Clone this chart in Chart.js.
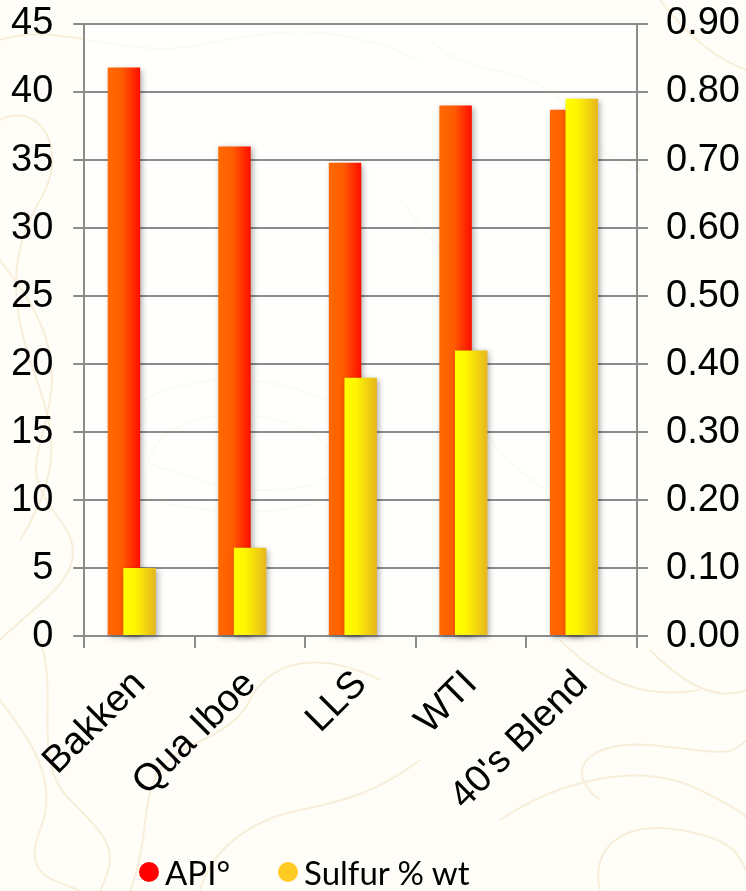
<!DOCTYPE html>
<html>
<head>
<meta charset="utf-8">
<title>API gravity and sulfur content of light crudes</title>
<script src="https://cdn.jsdelivr.net/npm/chart.js@4.4.1/dist/chart.umd.min.js"></script>
<style>
  html, body { margin: 0; padding: 0; background: #fffdf8; }
  #wrap { position: relative; width: 746px; height: 891px; overflow: hidden; }
  #topo, #chart { position: absolute; left: 0; top: 0; }
  #legend {
    position: absolute; left: 139px; top: 852px;
    display: flex; align-items: center;
    font-family: Lato, "Open Sans", sans-serif; font-size: 33px; color: #000;
  }
  #legend .item { display: flex; align-items: center; margin-right: 48px; }
  #legend .dot { width: 20px; height: 20px; border-radius: 50%; margin-right: 6px; }
</style>
</head>
<body>
<div id="wrap">
  <!-- faint topographic backdrop -->
  <svg id="topo" width="746" height="891" viewBox="0 0 746 891" fill="none" stroke="#f0e0bc" stroke-width="2" opacity="0.5">
    <path d="M0 40 C60 20 120 60 200 45 S330 20 420 60"/>
    <path d="M0 120 C40 100 70 150 40 200 S10 300 30 360 S70 460 20 540"/>
    <path d="M0 260 C30 300 60 340 50 400 S20 470 60 520 S40 600 0 640"/>
    <path d="M40 640 C60 700 30 760 70 800 S120 850 100 891"/>
    <path d="M0 700 C30 740 60 780 40 830 S60 880 80 891"/>
    <path d="M130 891 C150 840 140 800 160 770 S230 740 250 700 S320 650 380 680"/>
    <path d="M200 891 C210 850 250 820 300 810 S380 790 420 760"/>
    <path d="M600 891 C590 850 620 820 680 830 S740 860 746 870"/>
    <path d="M500 820 C560 780 640 760 700 790 S746 820 746 820"/>
    <path d="M600 800 C560 770 590 740 650 745 S730 760 746 740"/>
    <path d="M650 650 C690 690 720 700 746 690"/>
    <path d="M660 0 C690 40 720 60 746 70"/>
    <path d="M560 640 C600 680 640 700 700 690"/>
    <path d="M160 440 C200 400 300 410 330 450 S260 500 200 480 S140 470 160 440"/>
    <path d="M120 420 C170 360 320 370 360 430 S300 520 210 510 S90 480 120 420"/>
    <path d="M400 200 C450 260 480 300 470 360 S500 460 560 500"/>
    <path d="M430 40 C470 80 520 60 560 100 S600 160 640 170"/>
  </svg>
  <canvas id="chart" width="746" height="891"></canvas>
  <div id="legend"></div>
</div>

<script>
// Crude oil grades and their measured properties
const categories = ['Bakken', 'Qua Iboe', 'LLS', 'WTI', "40's Blend"];
const apiGravity = [41.8, 36.0, 34.8, 39.0, 38.7];          // API°
const sulfurWeight = [0.10, 0.13, 0.38, 0.42, 0.79];        // Sulfur % wt

// Axis ranges
const apiAxis = { min: 0, max: 45, step: 5 };
const sulfurAxis = { min: 0, max: 0.9, step: 0.1 };

const seriesNames = ['API°', 'Sulfur % wt'];
const legendColors = ['#ff0000', '#ffcc22'];

const API = 0, SULFUR = 1;
const tickFont = { family: "'Liberation Sans', Arial, sans-serif", size: 38 };
const lineGrey = '#8c8c8c';

// Horizontal gradient across each bar, built from the bar's own geometry
function barGradient(stops) {
  return (context) => {
    const el = context.element;
    if (!el || !Number.isFinite(el.x) || !el.width) return stops[0][1];
    const g = context.chart.ctx.createLinearGradient(el.x - el.width / 2, 0, el.x + el.width / 2, 0);
    stops.forEach(([o, c]) => g.addColorStop(o, c));
    return g;
  };
}

// Let tick labels overhang the plot instead of shrinking it
function noOverhang(scale) {
  scale.paddingLeft = 0;
  scale.paddingRight = 0;
  scale.paddingTop = 0;
  scale.paddingBottom = 0;
}

// Category axis: a single tick padding between tick mark and label
function categoryAxisFit(scale) {
  noOverhang(scale);
  scale.height -= scale.options.ticks.padding;
}

// Value axes: only one tick padding between label and tick mark, none outside
function valueAxisFit(scale) {
  noOverhang(scale);
  scale.width -= scale.options.ticks.padding;
}

// White wash over the plotting area
const plotBackdrop = {
  id: 'plotBackdrop',
  beforeDraw(chart) {
    const { ctx, chartArea: a } = chart;
    ctx.save();
    ctx.fillStyle = 'rgba(255,255,255,0.72)';
    ctx.fillRect(a.left, a.top, a.width, a.height);
    ctx.restore();
  }
};

// Bars drawn with a soft drop shadow, sulfur bars layered over API bars
const barLayers = {
  id: 'barLayers',
  beforeDatasetDraw(chart, args) {
    if (args.meta.type === 'bar') return false;
  },
  afterDatasetsDraw(chart) {
    const { ctx, chartArea: a } = chart;
    ctx.save();
    ctx.beginPath();
    ctx.rect(a.left, a.top - 10, a.width + 10, a.height + 18);
    ctx.clip();
    ctx.shadowColor = 'rgba(0,0,0,0.32)';
    ctx.shadowBlur = 6;
    ctx.shadowOffsetX = 2;
    ctx.shadowOffsetY = 2;
    for (const i of [API, SULFUR]) {
      const meta = chart.getDatasetMeta(i);
      if (meta.visible) meta.controller.draw();
    }
    ctx.restore();
  }
};

// Legend built from the series
const htmlLegend = {
  id: 'htmlLegend',
  afterUpdate(chart) {
    const box = document.getElementById('legend');
    box.innerHTML = '';
    seriesNames.forEach((name, i) => {
      const item = document.createElement('div');
      item.className = 'item';
      const dot = document.createElement('span');
      dot.className = 'dot';
      dot.style.background = legendColors[i];
      const txt = document.createElement('span');
      txt.textContent = chart.data.datasets[i].label;
      item.appendChild(dot);
      item.appendChild(txt);
      box.appendChild(item);
    });
  }
};

const chart = new Chart(document.getElementById('chart'), {
  type: 'bar',
  data: {
    labels: categories,
    datasets: [
      {
        label: seriesNames[API],
        data: apiGravity,
        yAxisID: 'y',
        backgroundColor: barGradient([[0, '#ff6a00'], [0.45, '#ff5c00'], [1, '#ff0c00']])
      },
      {
        label: seriesNames[SULFUR],
        data: sulfurWeight,
        yAxisID: 'y1',
        backgroundColor: barGradient([[0, '#ffff00'], [0.35, '#fff500'], [1, '#e6b61e']])
      },
      {
        // empty slot that keeps the bar pair left of each category centre
        label: '',
        data: [],
        yAxisID: 'y'
      }
    ]
  },
  options: {
    responsive: false,
    animation: false,
    devicePixelRatio: 1,
    categoryPercentage: 0.4235,
    barPercentage: 2.08,
    layout: { padding: { left: 11, right: 6, top: 24, bottom: 72 } },
    plugins: {
      legend: { display: false },
      tooltip: { enabled: false }
    },
    scales: {
      x: {
        offset: true,
        afterFit: categoryAxisFit,
        grid: { offset: true, drawOnChartArea: false, drawTicks: true, tickLength: 12, color: lineGrey, lineWidth: 2 },
        border: { color: lineGrey, width: 2 },
        ticks: { color: '#000', font: tickFont, minRotation: 45, maxRotation: 45, autoSkip: false, padding: 14 }
      },
      y: {
        position: 'left',
        min: apiAxis.min, max: apiAxis.max,
        afterFit: valueAxisFit,
        grid: { color: lineGrey, lineWidth: 2, tickLength: 11 },
        border: { color: lineGrey, width: 2 },
        ticks: { stepSize: apiAxis.step, color: '#000', font: tickFont, padding: 20 }
      },
      y1: {
        position: 'right',
        min: sulfurAxis.min, max: sulfurAxis.max,
        afterFit: valueAxisFit,
        grid: { drawOnChartArea: false, color: lineGrey, lineWidth: 2, tickLength: 11 },
        border: { color: lineGrey, width: 2 },
        ticks: {
          stepSize: sulfurAxis.step, color: '#000', font: tickFont, padding: 18,
          callback: (v) => Number(v).toFixed(2)
        }
      }
    }
  },
  plugins: [plotBackdrop, barLayers, htmlLegend]
});

// second pass so the bar gradients follow the laid-out bar positions
chart.update('none');
</script>
</body>
</html>
